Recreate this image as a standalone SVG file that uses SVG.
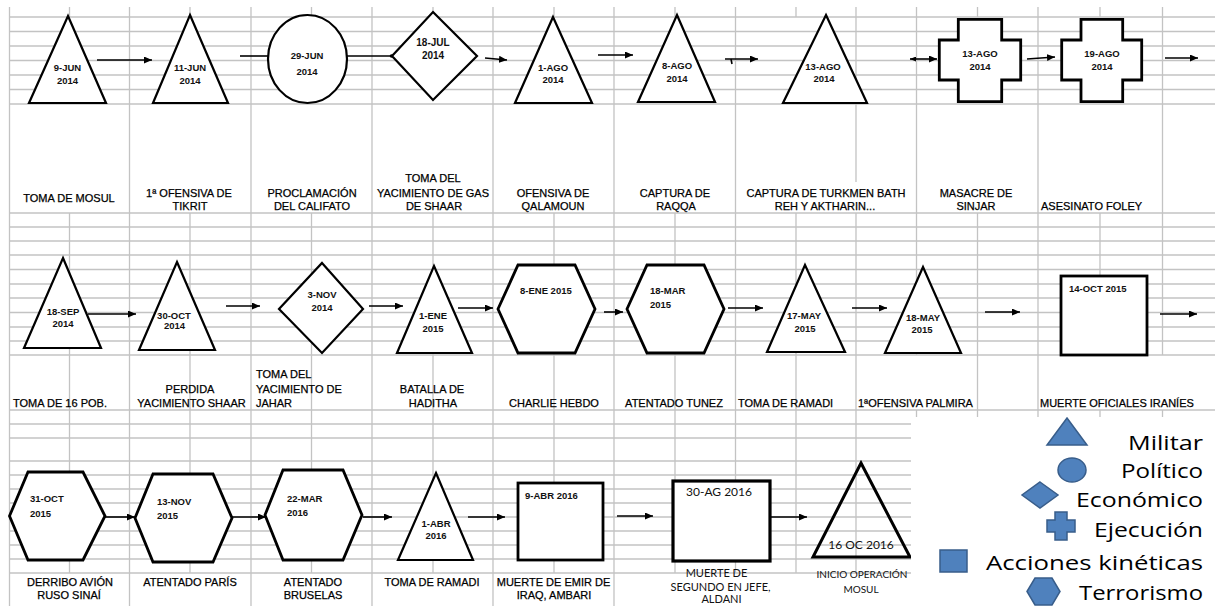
<svg xmlns="http://www.w3.org/2000/svg" width="1215" height="606" viewBox="0 0 1215 606">
<style>
.grid{stroke:#c3c3c3;stroke-width:1.3;fill:none}
.shp{fill:#fff;stroke:#000;stroke-width:2.2;stroke-linejoin:miter}
.thick{stroke-width:2.8}
.nofill{fill:none}
.date{font-family:"Liberation Sans",Arial,sans-serif;font-weight:bold;font-size:9.5px;fill:#111}
.lbl{font-family:"Liberation Sans",Arial,sans-serif;font-size:11px;fill:#000;stroke:#000;stroke-width:0.25}
.cal{font-family:Lato,"Open Sans",sans-serif;font-size:12px;fill:#111}
.con{stroke:#000;stroke-width:1.6;fill:none}
.leg{fill:#4f81bd;stroke:#385d8a;stroke-width:1.5}
.legt{font-family:"Open Sans","Noto Sans",sans-serif;font-size:20px;fill:#000;text-anchor:end}
.mid{text-anchor:middle}
</style>
<defs>
<marker id="ah" markerUnits="userSpaceOnUse" markerWidth="9" markerHeight="8" refX="8" refY="3.5" orient="auto"><path d="M0,0 L8,3.5 L0,7 z" fill="#000"/></marker>
<marker id="ahs" markerUnits="userSpaceOnUse" markerWidth="7" markerHeight="6" refX="0" refY="2.5" orient="auto"><path d="M6,0 L0,2.5 L6,5 z" fill="#000"/></marker>
</defs>
<rect width="1215" height="606" fill="#fff"/>
<g id="grid" class="grid">
<path d="M9.5,17H1215M9.5,31.5H1215M9.5,46H1215M9.5,60.5H1215M9.5,75H1215M9.5,89.5H1215M9.5,104H1215M9.5,213H1215"/>
<path d="M9.5,227H1215M9.5,241H1215M9.5,255H1215M9.5,269.5H1215M9.5,284H1215M9.5,298H1215M9.5,312.5H1215M9.5,327H1215M9.5,341H1215M9.5,355H1215M9.5,410H1215"/>
<path d="M9.5,424H1215M9.5,438H1215M9.5,461H1215M9.5,475H1215M9.5,489H1215M9.5,503H1215M9.5,517H1215M9.5,531H1215M9.5,545H1215M9.5,559H1215M9.5,573H1215"/>
<path d="M9.5,7V606M129.5,7V606M251,7V606M372,7V606M493,7V606M614,7V606M735.5,7V573M856,7V182M856,213V573M916.5,7V355M916.5,410V573M1038,7V573M977.5,7V17M977.5,213V573M1162.5,7V355M1162.5,410V573M1100,7V17M1100,213V355M1100,410V573"/>
<path d="M69.5,7V17M69.5,213V573M190,7V17M190,213V573M311.5,7V17M311.5,213V573M433,7V17M433,213V573M554,7V17M554,213V573M675,7V17M675,213V573M796,7V17M796,213V573"/>
</g>
<g id="connectors">
<line class="con" x1="97" y1="60" x2="152" y2="60" marker-end="url(#ah)"/>
<line class="con" x1="240" y1="56" x2="269" y2="56"/>
<line class="con" x1="347" y1="56" x2="392" y2="56"/>
<circle cx="391.5" cy="56" r="1.8" fill="#000"/>
<line class="con" x1="485" y1="58" x2="507" y2="60" marker-end="url(#ah)"/>
<line class="con" x1="598" y1="55" x2="633" y2="55" marker-end="url(#ah)"/>
<line class="con" x1="725" y1="59" x2="758" y2="59" marker-end="url(#ah)"/>
<line class="con" x1="731" y1="59" x2="732" y2="64"/>
<line class="con" x1="910" y1="59" x2="937" y2="59" marker-start="url(#ahs)" marker-end="url(#ah)"/>
<line class="con" x1="1027" y1="59" x2="1055" y2="57" marker-end="url(#ah)"/>
<line class="con" x1="1165" y1="58" x2="1198" y2="58" marker-end="url(#ah)"/>
<line class="con" x1="88" y1="314" x2="136" y2="314" marker-end="url(#ah)"/>
<line class="con" x1="226" y1="306" x2="260" y2="306" marker-end="url(#ah)"/>
<line class="con" x1="369" y1="306" x2="403" y2="306" marker-end="url(#ah)"/>
<line class="con" x1="458" y1="308" x2="493" y2="308" marker-end="url(#ah)"/>
<line class="con" x1="604" y1="312" x2="623" y2="312" marker-end="url(#ah)"/>
<line class="con" x1="728" y1="308" x2="763" y2="308" marker-end="url(#ah)"/>
<line class="con" x1="852" y1="308" x2="887" y2="308" marker-end="url(#ah)"/>
<line class="con" x1="985" y1="312" x2="1020" y2="312" marker-end="url(#ah)"/>
<line class="con" x1="1160" y1="314" x2="1197" y2="314" marker-end="url(#ah)"/>
<line class="con" x1="105" y1="517" x2="135" y2="517" marker-end="url(#ah)"/>
<line class="con" x1="232" y1="517" x2="266" y2="517" marker-end="url(#ah)"/>
<line class="con" x1="363" y1="517" x2="392" y2="517" marker-end="url(#ah)"/>
<line class="con" x1="468" y1="517" x2="505" y2="517" marker-end="url(#ah)"/>
<line class="con" x1="617" y1="516" x2="653" y2="516" marker-end="url(#ah)"/>
<line class="con" x1="770" y1="517" x2="807" y2="517" marker-end="url(#ah)"/>
</g>
<g id="n1"><polygon class="shp" points="68,16 106,103 29,103"/><text class="date mid" x="67.5" y="71">9-JUN</text><text class="date mid" x="67.5" y="84">2014</text><text class="lbl mid" x="69" y="202">TOMA DE MOSUL</text></g>
<g id="n2"><polygon class="shp" points="190,15 228,103 153,103"/><text class="date mid" x="190" y="71">11-JUN</text><text class="date mid" x="190" y="84">2014</text><text class="lbl mid" x="189" y="196.5">1ª OFENSIVA DE</text><text class="lbl mid" x="190" y="210">TIKRIT</text></g>
<g id="n3"><ellipse class="shp" cx="307.5" cy="59" rx="39.5" ry="44"/><text class="date mid" x="307" y="58.5">29-JUN</text><text class="date mid" x="307" y="74.5">2014</text><text class="lbl mid" x="312" y="196.5">PROCLAMACIÓN</text><text class="lbl mid" x="312" y="210">DEL CALIFATO</text></g>
<g id="n4"><polygon class="shp" points="433,12 477,56 433,100 392,56"/><text class="date mid" x="433" y="45.5" style="font-size:10px">18-JUL</text><text class="date mid" x="433" y="58.5" style="font-size:10px">2014</text><text class="lbl mid" x="433" y="182">TOMA DEL</text><text class="lbl mid" x="433" y="196.5">YACIMIENTO DE GAS</text><text class="lbl mid" x="434" y="210">DE SHAAR</text></g>
<g id="n5"><polygon class="shp" points="553,17 592,103 515,103"/><text class="date mid" x="553" y="70.5">1-AGO</text><text class="date mid" x="553" y="82.5">2014</text><text class="lbl mid" x="553" y="196.5">OFENSIVA DE</text><text class="lbl mid" x="553" y="210">QALAMOUN</text></g>
<g id="n6"><polygon class="shp" points="677,15 715,102 638,102"/><text class="date mid" x="677" y="68.5">8-AGO</text><text class="date mid" x="677" y="81.5">2014</text><text class="lbl mid" x="675" y="196.5">CAPTURA DE</text><text class="lbl mid" x="676" y="210">RAQQA</text></g>
<g id="n7"><polygon class="shp" points="826,15 867,103 783,103"/><text class="date mid" x="823" y="69.5">13-AGO</text><text class="date mid" x="824" y="81.5">2014</text><text class="lbl mid" x="826" y="196.5">CAPTURA DE TURKMEN BATH</text><text class="lbl mid" x="825" y="210">REH Y AKTHARIN...</text></g>
<g id="n8"><path class="shp thick" d="M958.3,19.3H1001.7V40H1020.7V80H1001.7V101.7H958.3V80H939.3V40H958.3Z"/><text class="date mid" x="980" y="56.5">13-AGO</text><text class="date mid" x="980" y="69.5">2014</text><text class="lbl mid" x="976" y="196.5">MASACRE DE</text><text class="lbl mid" x="976" y="210">SINJAR</text></g>
<g id="n9"><path class="shp thick" d="M1081,19.3H1122.7V40H1141.7V80H1122.7V101.7H1081V80H1061.7V40H1081Z"/><text class="date mid" x="1102" y="56.5">19-AGO</text><text class="date mid" x="1102" y="69.5">2014</text><text class="lbl" x="1041" y="210">ASESINATO FOLEY</text></g>
<g id="m1"><polygon class="shp" points="63,258 101,348 24,348"/><text class="date mid" x="63" y="315">18-SEP</text><text class="date mid" x="63" y="326.5">2014</text><text class="lbl" x="13" y="407">TOMA DE 16 POB.</text></g>
<g id="m2"><polygon class="shp" points="177,262 215,350 139,350"/><text class="date mid" x="174" y="318.5">30-OCT</text><text class="date mid" x="174.5" y="328.5">2014</text><text class="lbl mid" x="190" y="392.5">PERDIDA</text><text class="lbl mid" x="191.5" y="407">YACIMIENTO SHAAR</text></g>
<g id="m3"><polygon class="shp" points="322,263 363,309 322,353 279,309"/><text class="date mid" x="322" y="297.5">3-NOV</text><text class="date mid" x="322" y="310.5">2014</text><text class="lbl" x="256" y="378">TOMA DEL</text><text class="lbl" x="256" y="392.5">YACIMIENTO DE</text><text class="lbl" x="256" y="407">JAHAR</text></g>
<g id="m4"><polygon class="shp" points="434,266 472,353 397,353"/><text class="date mid" x="433" y="318.5">1-ENE</text><text class="date mid" x="433" y="331.5">2015</text><text class="lbl mid" x="432" y="392.5">BATALLA DE</text><text class="lbl mid" x="433" y="407">HADITHA</text></g>
<g id="m5"><polygon class="shp thick" points="498,309 518,265 575,265 595,309 575,353 518,353"/><text class="date" x="520" y="293.5">8-ENE 2015</text><text class="lbl mid" x="554" y="407">CHARLIE HEBDO</text></g>
<g id="m6"><polygon class="shp thick" points="627,309 647,265 704,265 724,309 704,353 647,353"/><text class="date" x="650" y="293.5">18-MAR</text><text class="date" x="650" y="307.5">2015</text><text class="lbl mid" x="674" y="407">ATENTADO TUNEZ</text></g>
<g id="m7"><polygon class="shp" points="805,265 845,352 767,352"/><text class="date mid" x="804" y="318.5">17-MAY</text><text class="date mid" x="805" y="331.5">2015</text><text class="lbl" x="738" y="407">TOMA DE RAMADI</text></g>
<g id="m8"><polygon class="shp" points="923,267 961,353 885,353"/><text class="date mid" x="923" y="320.5">18-MAY</text><text class="date mid" x="922" y="332.5">2015</text><text class="lbl" x="858" y="407">1ªOFENSIVA PALMIRA</text></g>
<g id="m9"><rect class="shp thick" x="1061" y="276" width="86" height="79"/><text class="date" x="1069" y="291.5">14-OCT 2015</text><text class="lbl" x="1040" y="407">MUERTE OFICIALES IRANÍES</text></g>
<g id="k1"><polygon class="shp thick" points="9.5,516 28,472 83,472 105,516 83,560 28,560"/><text class="date" x="30" y="501.5">31-OCT</text><text class="date" x="30" y="516.5">2015</text><text class="lbl mid" x="70" y="586">DERRIBO AVIÓN</text><text class="lbl mid" x="69" y="599">RUSO SINAÍ</text></g>
<g id="k2"><polygon class="shp thick" points="135,518 153,474 213,474 232,518 213,562 153,562"/><text class="date" x="157" y="504.5">13-NOV</text><text class="date" x="157" y="518.5">2015</text><text class="lbl mid" x="190" y="586">ATENTADO PARÍS</text></g>
<g id="k3"><polygon class="shp thick" points="265,515 283,470 343,470 362,515 343,560 283,560"/><text class="date" x="287" y="501.5">22-MAR</text><text class="date" x="287" y="515.5">2016</text><text class="lbl mid" x="313" y="586">ATENTADO</text><text class="lbl mid" x="313" y="599">BRUSELAS</text></g>
<g id="k4"><polygon class="shp" points="436,473 473,560 398,560"/><text class="date mid" x="436" y="526.5">1-ABR</text><text class="date mid" x="436" y="538.5">2016</text><text class="lbl mid" x="432" y="586">TOMA DE RAMADI</text></g>
<g id="k5"><rect class="shp thick" x="518" y="483" width="85" height="77"/><text class="date" x="525" y="498.5">9-ABR 2016</text><text class="lbl mid" x="553.5" y="586">MUERTE DE EMIR DE</text><text class="lbl mid" x="554" y="599">IRAQ, AMBARI</text></g>
<g id="k6"><rect class="shp" style="stroke-width:3.2" x="673" y="481" width="97" height="80"/><text class="cal mid" x="719" y="496">30-AG 2016</text><text class="cal mid" x="716.5" y="577" style="font-size:11px">MUERTE DE</text><text class="cal mid" x="720.5" y="591" style="font-size:11px">SEGUNDO EN JEFE,</text><text class="cal mid" x="721.5" y="603" style="font-size:11px">ALDANI</text></g>
<g id="k7"><polygon class="shp nofill" style="stroke-width:3" points="861,463 910,557 813,557"/><text class="cal mid" x="861" y="549">16 OC 2016</text><text class="cal mid" x="862" y="578" style="font-size:10px">INICIO OPERACIÓN</text><text class="cal mid" x="861" y="593" style="font-size:10px">MOSUL</text></g>
<g id="legend">
<rect x="911" y="417" width="304" height="189" fill="#fff"/>
<polygon class="leg" points="1067,418 1087,445 1047,445"/>
<text class="legt" x="1203" y="450" textLength="75" lengthAdjust="spacingAndGlyphs">Militar</text>
<ellipse class="leg" cx="1072" cy="470" rx="14" ry="12"/>
<text class="legt" x="1203" y="478" textLength="82" lengthAdjust="spacingAndGlyphs">Político</text>
<polygon class="leg" points="1040,482 1058,495 1040,508 1022,495"/>
<text class="legt" x="1203" y="507" textLength="127" lengthAdjust="spacingAndGlyphs">Económico</text>
<path class="leg" d="M1055,512H1067V520H1075V532H1067V540H1055V532H1047V520H1055Z"/>
<text class="legt" x="1203" y="537" textLength="109" lengthAdjust="spacingAndGlyphs">Ejecución</text>
<rect class="leg" x="940" y="550" width="27" height="22"/>
<text class="legt" x="1203" y="570" textLength="217" lengthAdjust="spacingAndGlyphs">Acciones kinéticas</text>
<polygon class="leg" points="1027,591.5 1035,578 1052,578 1060,591.5 1052,605 1035,605"/>
<text class="legt" x="1203" y="600" textLength="124" lengthAdjust="spacingAndGlyphs">Terrorismo</text>
</g>
</svg>
